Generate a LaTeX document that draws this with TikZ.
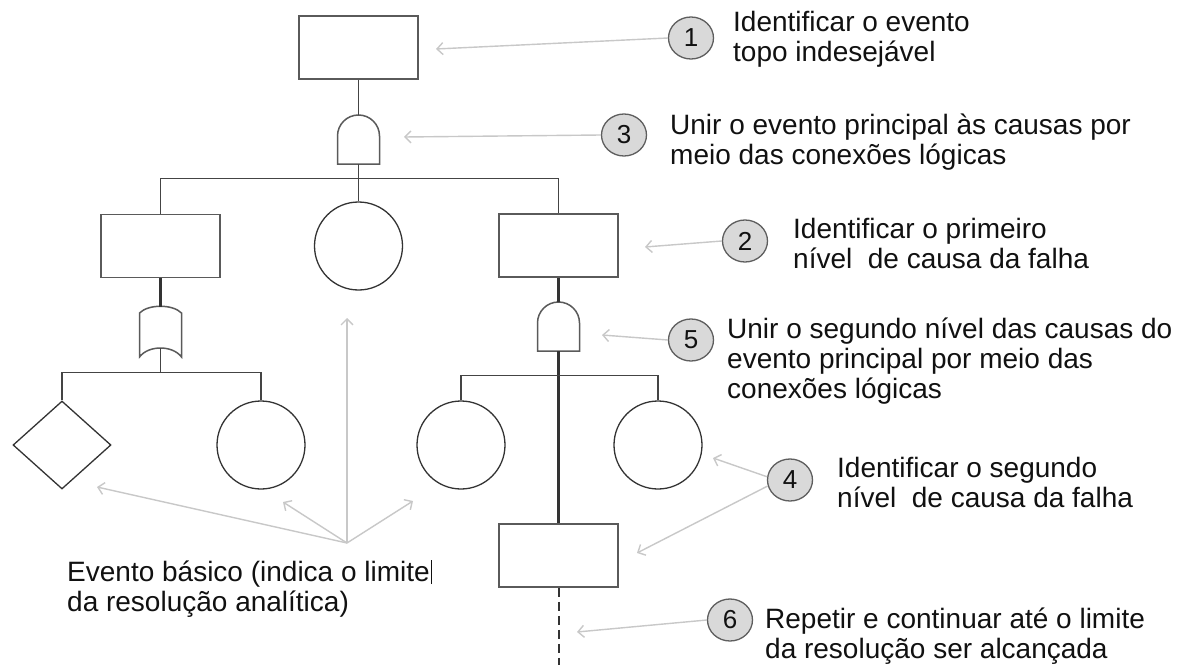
\documentclass[tikz,border=0pt]{standalone}
\usepackage{fontspec}
\setmainfont{Liberation Sans}
\usetikzlibrary{arrows.meta,shapes.geometric}

\definecolor{boxline}{HTML}{5A5A5A}
\definecolor{shapeline}{HTML}{333333}
\definecolor{wire}{HTML}{444444}
\definecolor{pointer}{HTML}{C8C8C8}
\definecolor{badgefill}{HTML}{D9D9D9}
\definecolor{badgeline}{HTML}{5E5E5E}
\definecolor{inktext}{HTML}{111111}

\tikzset{
  eventbox/.style={draw=boxline, line width=1.8pt, minimum width=119pt, minimum height=63pt, inner sep=0pt},
  basicev/.style={draw=shapeline, line width=1.3pt, circle, minimum size=88pt, inner sep=0pt},
  undevev/.style={draw=shapeline, line width=1.3pt, diamond, minimum width=98pt, minimum height=88pt, inner sep=0pt},
  wireline/.style={draw=wire, line width=1.3pt},
  thickwire/.style={draw=shapeline, line width=3pt},
  pointerarrow/.style={draw=pointer, line width=1.4pt, -{Straight Barb[length=6pt,width=12pt,line width=1.4pt]}},
  badge/.style={draw=badgeline, fill=badgefill, line width=1.3pt, ellipse, minimum width=45pt, minimum height=42pt, inner sep=0pt, font=\fontsize{26}{26}\selectfont, text=inktext},
  note/.style={anchor=base west, inner sep=0pt, text=inktext, font=\fontsize{28}{30}\selectfont},
  % AND gate: flat base, straight sides, round top
  andgate/.pic={
    \draw[draw=boxline, line width=1.5pt, fill=white] (-21,0) -- (-21,-28) arc (180:360:21) -- (21,0) -- cycle;
    \coordinate (-in) at (0,-49);
    \coordinate (-out) at (0,0);
  },
  % OR gate: shallow arched top, concave base
  orgate/.pic={
    \draw[draw=boxline, line width=1.5pt, fill=white] (-21,0) -- (-21,-44)
      .. controls (-12,-53) and (12,-53) .. (21,-44) -- (21,0)
      .. controls (12,-12) and (-12,-12) .. (-21,0) -- cycle;
    \coordinate (-in) at (0,-50);
    \coordinate (-out) at (0,-9);
  }
}

\newcommand{\twolines}[2]{\begin{tabular}[t]{@{}l@{}}#1\\#2\end{tabular}}
\newcommand{\threelines}[3]{\begin{tabular}[t]{@{}l@{}}#1\\#2\\#3\end{tabular}}

\begin{document}
\begin{tikzpicture}[x=1pt,y=-1pt]
\useasboundingbox[fill=white] (0,0) rectangle (1184,669);

% ---- tree nodes ----
\node[eventbox] (top) at (358.5,47.5) {};
\node[eventbox] (lbox) at (160.5,246) {};
\node[basicev] (midc) at (358.5,246) {};
\node[eventbox] (rbox) at (558.5,245.5) {};
\node[undevev] (diam) at (62,445) {};
\node[basicev] (lc) at (261,445) {};
\node[basicev] (rc1) at (461,445) {};
\node[basicev] (rc2) at (658,445) {};
\node[eventbox] (bbox) at (558.5,555.5) {};

% ---- gates ----
\pic (g1) at (358.5,164) {andgate};
\pic (g2) at (160.5,357) {orgate};
\pic (g3) at (558.5,351) {andgate};

% ---- connections ----
\draw[wireline] (top.south) -- (g1-in);
\draw[wireline] (g1-out) -- (midc.north);
\draw[wireline] (lbox.north) -- ++(0,-35) -| (rbox.north);
\draw[thickwire] (lbox.south) -- (g2-in);
\draw[wireline] (g2-out) -- (g2-out |- 0,373);
\draw[wireline] (diam.north) -- ++(0,-28) -| (lc.north);
\draw[thickwire] (rbox.south) -- (g3-in);
\draw[thickwire] (g3-out) -- (bbox.north);
\draw[wireline] (rc1.north) -- ++(0,-25) -| (rc2.north);
\coordinate (cont) at (558.5,665);
\draw[draw=shapeline, line width=2pt, dash pattern=on 9pt off 5pt] (bbox.south) -- (cont);

% ---- numbered steps ----
\node[badge] (n1) at (691,38) {1};
\node[badge] (n3) at (624,135) {3};
\node[badge] (n2) at (745,241) {2};
\node[badge] (n5) at (691,340) {5};
\node[badge] (n4) at (790,480) {4};
\node[badge] (n6) at (730,620) {6};

\coordinate (p1) at (436,49);
\coordinate (p3) at (404,137);
\coordinate (p2) at (645,247);
\coordinate (p5) at (602,335);
\coordinate (p4a) at (713,458);
\coordinate (p4b) at (637,553);
\coordinate (p6) at (577,632);
\draw[pointerarrow] (n1.west) -- (p1);
\draw[pointerarrow] (n3.west) -- (p3);
\draw[pointerarrow] (n2.west) -- (p2);
\draw[pointerarrow] (n5.west) -- (p5);
\draw[pointerarrow] (n4.172) -- (p4a);
\draw[pointerarrow] (n4.195) -- (p4b);
\draw[pointerarrow] (n6.west) -- (p6);

% ---- basic event pointers ----
\coordinate (hub) at (347,543);
\coordinate (b1) at (97,487);
\coordinate (b2) at (283,502);
\coordinate (b3) at (347,318);
\coordinate (b4) at (413,501);
\draw[pointerarrow] (hub) -- (b1);
\draw[pointerarrow] (hub) -- (b2);
\draw[pointerarrow] (hub) -- (b3);
\draw[pointerarrow] (hub) -- (b4);

% ---- captions ----
\node[note] (t1) at (733,32) {\twolines{Identificar o evento}{topo indesejável}};
\node[note] (t3) at (670,134) {\twolines{Unir o evento principal às causas por}{meio das conexões lógicas}};
\node[note] (t2) at (793,238) {\twolines{Identificar o primeiro}{nível\ \ de causa da falha}};
\node[note] (t5) at (727,338) {\threelines{Unir o segundo nível das causas do}{evento principal por meio das}{conexões lógicas}};
\node[note] (t4) at (837,477) {\twolines{Identificar o segundo}{nível\ \ de causa da falha}};
\node[note] (t6) at (765,628) {\twolines{Repetir e continuar até o limite}{da resolução ser alcançada}};
\node[note] (tb) at (67,581) {\twolines{Evento básico (indica o limite\kern1pt\rule[-3pt]{1.2pt}{24pt}}{da resolução analítica)}};
\end{tikzpicture}
\end{document}
